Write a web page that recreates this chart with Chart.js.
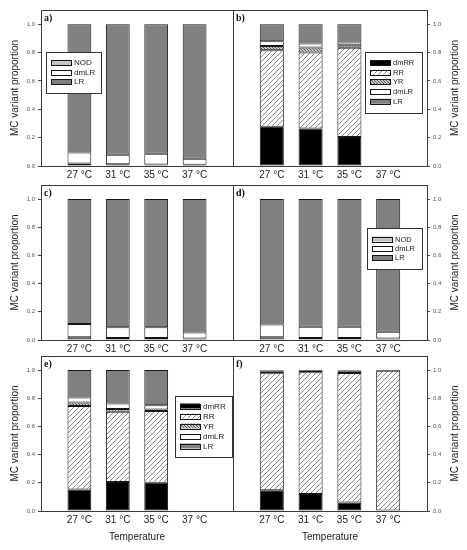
<!DOCTYPE html>
<html><head><meta charset="utf-8">
<script src="https://cdn.jsdelivr.net/npm/chart.js@4.4.0/dist/chart.umd.min.js"></script>
<style>
html,body{margin:0;padding:0;background:#fff;}
#wrap{position:relative;width:467px;height:550px;overflow:hidden;background:#fff;}
canvas{position:absolute;}
</style></head><body><div id="wrap">
<canvas id="pa"></canvas><canvas id="pb"></canvas>
<canvas id="pc"></canvas><canvas id="pd"></canvas>
<canvas id="pe"></canvas><canvas id="pf"></canvas>
</div>
<script>
// ---- data ----
const temperatures = ['27 °C', '31 °C', '35 °C', '37 °C'];
const yTickValues = [0, 0.2, 0.4, 0.6, 0.8, 1.0];
const yTitle = 'MC variant proportion';
const xTitle = 'Temperature';

// panel a
const a_NOD  = [0.017, 0.012, 0.010, 0.008];
const a_dmLR = [0.079, 0.068, 0.077, 0.044];
const a_LR   = [0.904, 0.920, 0.913, 0.948];
// panel b
const b_dmRR = [0.277, 0.265, 0.204, null];
const b_RR   = [0.540, 0.535, 0.629, null];
const b_YR   = [0.030, 0.036, 0.019, null];
const b_dmLR = [0.033, 0.028, 0.018, null];
const b_LR   = [0.120, 0.136, 0.130, null];
// panel c
const c_NOD  = [0.020, 0.014, 0.014, 0.010];
const c_dmLR = [0.093, 0.076, 0.076, 0.044];
const c_LR   = [0.887, 0.910, 0.910, 0.946];
// panel d
const d_NOD  = [0.020, 0.014, 0.014, 0.010];
const d_dmLR = [0.090, 0.080, 0.080, 0.049];
const d_LR   = [0.890, 0.906, 0.906, 0.941];
// panel e
const e_dmRR = [0.153, 0.206, 0.200, null];
const e_RR   = [0.593, 0.498, 0.510, null];
const e_YR   = [0.024, 0.019, 0.010, null];
const e_dmLR = [0.035, 0.040, 0.031, null];
const e_LR   = [0.195, 0.237, 0.249, null];
// panel f
const f_dmRR = [0.148, 0.120, 0.061, 0];
const f_RR   = [0.829, 0.865, 0.919, 0.995];
const f_YR   = [0.015, 0.010, 0.012, 0];
const f_dmLR = [0.005, 0, 0.005, 0];
const f_LR   = [0.003, 0.005, 0.003, 0.005];

// ---- styles ----
function makePattern(size, bg, fg, dir, lw) {
  const c = document.createElement('canvas');
  c.width = size; c.height = size;
  const g = c.getContext('2d');
  g.fillStyle = bg; g.fillRect(0, 0, size, size);
  g.strokeStyle = fg; g.lineWidth = lw;
  g.beginPath();
  if (dir === '/') {
    g.moveTo(-1, size + 1); g.lineTo(size + 1, -1);
    g.moveTo(-1, 1); g.lineTo(1, -1);
    g.moveTo(size - 1, size + 1); g.lineTo(size + 1, size - 1);
  } else {
    g.moveTo(-1, -1); g.lineTo(size + 1, size + 1);
    g.moveTo(-1, size - 1); g.lineTo(1, size + 1);
    g.moveTo(size - 1, -1); g.lineTo(size + 1, 1);
  }
  g.stroke();
  return g.createPattern(c, 'repeat');
}
const FILL = {
  NOD: '#c4c4c4',
  dmLR: '#ffffff',
  LR: '#808080',
  dmRR: '#000000',
  RR: makePattern(5, '#ffffff', '#6a6a6a', '/', 0.8),
  YR: makePattern(3, '#c8c8c8', '#3a3a3a', '\\', 0.8)
};

function ds(label, arr) {
  return {
    label: label,
    data: [null, ...arr, null],
    backgroundColor: FILL[label],
    borderColor: '#151515',
    borderWidth: 1,
    borderSkipped: false,
    barPercentage: 0.62,
    categoryPercentage: 1.0
  };
}

// ---- plugins ----
const framePlugin = {
  id: 'frame',
  afterDatasetsDraw(chart) {
    const {ctx, chartArea: a} = chart;
    ctx.save();
    ctx.strokeStyle = '#3a3a3a';
    ctx.lineWidth = 1;
    ctx.strokeRect(Math.round(a.left) + 0.5, Math.round(a.top) + 0.5,
                   Math.round(a.width), Math.round(a.height));
    ctx.restore();
  }
};
const letterPlugin = {
  id: 'letter',
  afterDraw(chart, args, o) {
    if (!o.text) return;
    const {ctx, chartArea: a} = chart;
    ctx.save();
    ctx.font = 'bold 10px "Liberation Serif", serif';
    ctx.fillStyle = '#111';
    ctx.textBaseline = 'top';
    ctx.textAlign = 'left';
    ctx.fillText(o.text, a.left + 3, a.top + 3);
    ctx.restore();
  }
};
const boxLegendPlugin = {
  id: 'boxLegend',
  afterDraw(chart, args, o) {
    if (!o.show) return;
    const {ctx, chartArea: a} = chart;
    const x = a.left + o.x, y = a.top + o.y;
    ctx.save();
    ctx.fillStyle = '#fff';
    ctx.fillRect(x, y, o.w, o.h);
    ctx.strokeStyle = '#333';
    ctx.lineWidth = 1;
    ctx.strokeRect(x + 0.5, y + 0.5, o.w, o.h);
    ctx.font = o.fontSize + 'px "Liberation Sans", Arial, sans-serif';
    ctx.textBaseline = 'middle';
    ctx.textAlign = 'left';
    chart.data.datasets.forEach((d, i) => {
      const cy = y + o.first + i * o.gap;
      ctx.fillStyle = d.backgroundColor;
      ctx.fillRect(x + 5, cy - 2.5, 20, 5);
      ctx.strokeStyle = '#151515';
      ctx.strokeRect(x + 5.5, Math.round(cy - 2.5) + 0.5, 20, 5);
      ctx.fillStyle = '#222';
      ctx.fillText(d.label, x + 28, cy + 0.5);
    });
    ctx.restore();
  }
};
const rightTitlePlugin = {
  id: 'rightTitle',
  afterDraw(chart, args, o) {
    if (!o.text) return;
    const {ctx, chartArea: a} = chart;
    ctx.save();
    ctx.font = '10px "Liberation Sans", Arial, sans-serif';
    ctx.fillStyle = '#222';
    ctx.textAlign = 'center';
    ctx.textBaseline = 'middle';
    ctx.translate(chart.width - 12, (a.top + a.bottom) / 2);
    ctx.rotate(-Math.PI / 2);
    ctx.fillText(o.text, 0, 0);
    ctx.restore();
  }
};

// ---- layout ----
const COLS = {left: {x: 0, w: 238, pad: {left: 0, right: 5}}, right: {x: 228, w: 239, pad: {left: 5, right: 0}}};
const ROWS = [{y: 0, h: 184, xh: 18}, {y: 175, h: 183, xh: 18}, {y: 346, h: 204, xh: 39}];

function panel(id, side, row, letter, datasets, legend) {
  const col = COLS[side], r = ROWS[row];
  const cv = document.getElementById(id);
  cv.width = col.w; cv.height = r.h;
  cv.style.left = col.x + 'px'; cv.style.top = r.y + 'px';
  cv.style.width = col.w + 'px'; cv.style.height = r.h + 'px';
  const showXTitle = row === 2;
  new Chart(cv, {
    type: 'bar',
    data: {labels: ['', ...temperatures, ''], datasets: datasets},
    options: {
      responsive: false,
      animation: false,
      layout: {padding: {top: 10, bottom: 0, left: col.pad.left, right: col.pad.right}},
      plugins: {
        legend: {display: false},
        tooltip: {enabled: false},
        letter: {text: letter},
        boxLegend: legend ? Object.assign({show: true}, legend) : {show: false},
        rightTitle: {text: side === 'right' ? yTitle : ''}
      },
      scales: {
        x: {
          stacked: true,
          offset: false,
          grid: {display: false, drawTicks: false},
          border: {display: false},
          ticks: {autoSkip: false, maxRotation: 0, minRotation: 0, padding: 3,
                  color: '#222', font: {family: '"Liberation Sans", Arial, sans-serif', size: 10}},
          title: {display: showXTitle, text: xTitle, color: '#222',
                  font: {family: '"Liberation Sans", Arial, sans-serif', size: 10},
                  padding: {top: 4, bottom: 7}},
          afterFit(s) { s.height = r.xh; }
        },
        y: {
          stacked: true,
          position: side,
          min: 0, max: 1.1,
          border: {display: false},
          grid: {drawOnChartArea: false, drawTicks: true, tickLength: 3, color: '#444'},
          afterBuildTicks(s) { s.ticks = yTickValues.map(v => ({value: v})); },
          ticks: {padding: 3, color: '#555', includeBounds: false,
                  font: {family: '"Liberation Sans", Arial, sans-serif', size: 6},
                  callback: v => Number(v).toFixed(1)},
          title: {display: side === 'left', text: yTitle, color: '#222',
                  font: {family: '"Liberation Sans", Arial, sans-serif', size: 10},
                  padding: {top: 9, bottom: 0}},
          afterFit(s) { s.width = side === 'left' ? 41 : 40; }
        }
      }
    },
    plugins: [framePlugin, letterPlugin, boxLegendPlugin, rightTitlePlugin]
  });
}

panel('pa', 'left', 0, 'a)',
  [ds('NOD', a_NOD), ds('dmLR', a_dmLR), ds('LR', a_LR)],
  {x: 5, y: 42, w: 55, h: 41, first: 10.5, gap: 9.5, fontSize: 8});
panel('pb', 'right', 0, 'b)',
  [ds('dmRR', b_dmRR), ds('RR', b_RR), ds('YR', b_YR), ds('dmLR', b_dmLR), ds('LR', b_LR)],
  {x: 132, y: 42, w: 57, h: 61, first: 10.5, gap: 9.7, fontSize: 7.5});
panel('pc', 'left', 1, 'c)',
  [ds('NOD', c_NOD), ds('dmLR', c_dmLR), ds('LR', c_LR)], null);
panel('pd', 'right', 1, 'd)',
  [ds('NOD', d_NOD), ds('dmLR', d_dmLR), ds('LR', d_LR)],
  {x: 134, y: 43, w: 55, h: 41, first: 11, gap: 9.4, fontSize: 7.5});
panel('pe', 'left', 2, 'e)',
  [ds('dmRR', e_dmRR), ds('RR', e_RR), ds('YR', e_YR), ds('dmLR', e_dmLR), ds('LR', e_LR)],
  {x: 134, y: 40, w: 57, h: 61, first: 10, gap: 10, fontSize: 8});
panel('pf', 'right', 2, 'f)',
  [ds('dmRR', f_dmRR), ds('RR', f_RR), ds('YR', f_YR), ds('dmLR', f_dmLR), ds('LR', f_LR)], null);
</script>
</body></html>
